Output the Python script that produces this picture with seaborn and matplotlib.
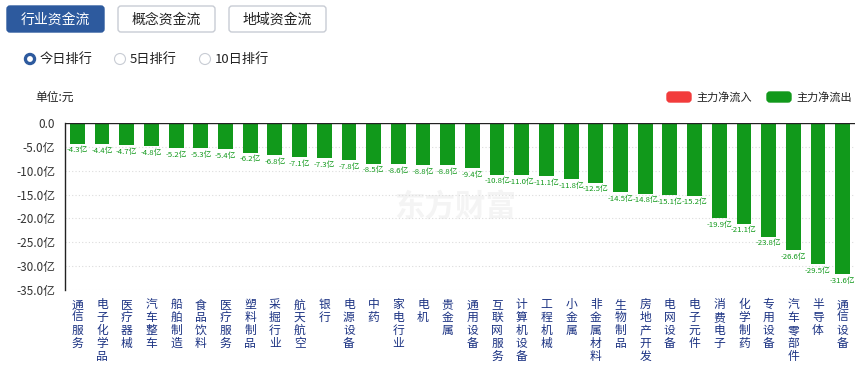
import matplotlib
matplotlib.use("Agg")
import matplotlib.pyplot as plt
from matplotlib.patches import FancyBboxPatch, Circle
import seaborn as sns

# data
categories = ["通信服务", "电子化学品", "医疗器械", "汽车整车", "船舶制造", "食品饮料",
              "医疗服务", "塑料制品", "采掘行业", "航天航空", "银行", "电源设备",
              "中药", "家电行业", "电机", "贵金属", "通用设备", "互联网服务",
              "计算机设备", "工程机械", "小金属", "非金属材料", "生物制品", "房地产开发",
              "电网设备", "电子元件", "消费电子", "化学制药", "专用设备", "汽车零部件",
              "半导体", "通信设备"]
net_flow = [-4.3, -4.4, -4.7, -4.8, -5.2, -5.3, -5.4, -6.2, -6.8, -7.1, -7.3, -7.8,
            -8.5, -8.6, -8.8, -8.8, -9.4, -10.8, -11.0, -11.1, -11.8, -12.5, -14.5, -14.8,
            -15.1, -15.2, -19.9, -21.1, -23.8, -26.6, -29.5, -31.6]
y_ticks = [0, -5, -10, -15, -20, -25, -30, -35]
tabs = ["行业资金流", "概念资金流", "地域资金流"]
ranks = ["今日排行", "5日排行", "10日排行"]
legend_names = ["主力净流入", "主力净流出"]

GREEN = "#11991b"
RED = "#f23b3b"
BLUE = "#2d5a9e"
NAVY = "#1c3383"

sns.set_theme(style="white")
plt.rcParams["font.family"] = ["Noto Sans CJK SC", "DejaVu Sans"]

W, H = 867, 365
fig = plt.figure(figsize=(W / 100, H / 100), dpi=100)

# overlay in pixel coords for the header widgets
ov = fig.add_axes([0, 0, 1, 1])
ov.set_xlim(0, W)
ov.set_ylim(H, 0)
ov.axis("off")

tab_x = [5, 116, 227]
for i, (name, x0) in enumerate(zip(tabs, tab_x)):
    active = i == 0
    ov.add_patch(FancyBboxPatch((x0 + 2, 6), 97, 26, boxstyle="round,pad=0,rounding_size=3",
                                fc=BLUE if active else "white",
                                ec=BLUE if active else "#c8ccd4", lw=1))
    ov.text(x0 + 50.5, 19.5, name, ha="center", va="center", fontsize=10,
            color="white" if active else "#222222")

radio_x = [30, 120, 205]
for i, (name, x0) in enumerate(zip(ranks, radio_x)):
    if i == 0:
        ov.add_patch(Circle((x0, 59), 5.5, fc=BLUE, ec=BLUE))
        ov.add_patch(Circle((x0, 59), 2.2, fc="white", ec="white"))
    else:
        ov.add_patch(Circle((x0, 59), 5.5, fc="white", ec="#c8ccd4", lw=0.8))
    ov.text(x0 + 10, 59, name, ha="left", va="center", fontsize=9.5, color="#222222")

ov.text(35, 97, "单位:元", ha="left", va="center", fontsize=8.5, color="#222222")

for name, x0, c in zip(legend_names, [667, 767], [RED, GREEN]):
    ov.add_patch(FancyBboxPatch((x0, 92), 24, 10, boxstyle="round,pad=0,rounding_size=3",
                                fc=c, ec=c))
    ov.text(x0 + 29, 97, name, ha="left", va="center", fontsize=8, color="#222222")

# watermark
ov.text(455, 207, "东方财富", ha="center", va="center", fontsize=22, fontweight="bold",
        color="#f4f4f4")

# main chart
ax = fig.add_axes([65 / W, 1 - 290 / H, 790 / W, 167 / H])
ax.patch.set_alpha(0)
sns.barplot(x=categories, y=net_flow, color=GREEN, saturation=1, width=0.6, ax=ax)
for p in ax.patches:
    p.set_edgecolor("none")

ax.set_xlim(-0.5, len(categories) - 0.5)
ax.set_ylim(-35, 0)
ax.set_yticks(y_ticks)
ax.set_yticklabels(["0.0"] + [f"{v:.1f}亿" for v in y_ticks[1:]], fontsize=8.5, color="#333333")
for v in y_ticks[1:]:
    ax.axhline(v, color="#dcdcdc", lw=0.8, ls=(0, (1, 2)), zorder=0)
ax.axhline(0, color="#222222", lw=1, zorder=3)

for s in ["top", "right", "bottom"]:
    ax.spines[s].set_visible(False)
ax.spines["left"].set_color("#222222")
ax.spines["left"].set_linewidth(1)
ax.tick_params(axis="y", length=0, pad=7)
ax.tick_params(axis="x", length=0, pad=6)

ax.set_xticks(range(len(categories)))
ax.set_xticklabels(["\n".join(c) for c in categories], rotation=0, fontsize=8.5,
                   color=NAVY, va="top", linespacing=0.98)
ax.set_xlabel("")
ax.set_ylabel("")

for i, v in enumerate(net_flow):
    ax.annotate(f"{v:.1f}亿", (i, v), xytext=(0, -2), textcoords="offset points",
                ha="center", va="top", fontsize=5.6, color=GREEN)

fig.savefig("out.png", dpi=100)
